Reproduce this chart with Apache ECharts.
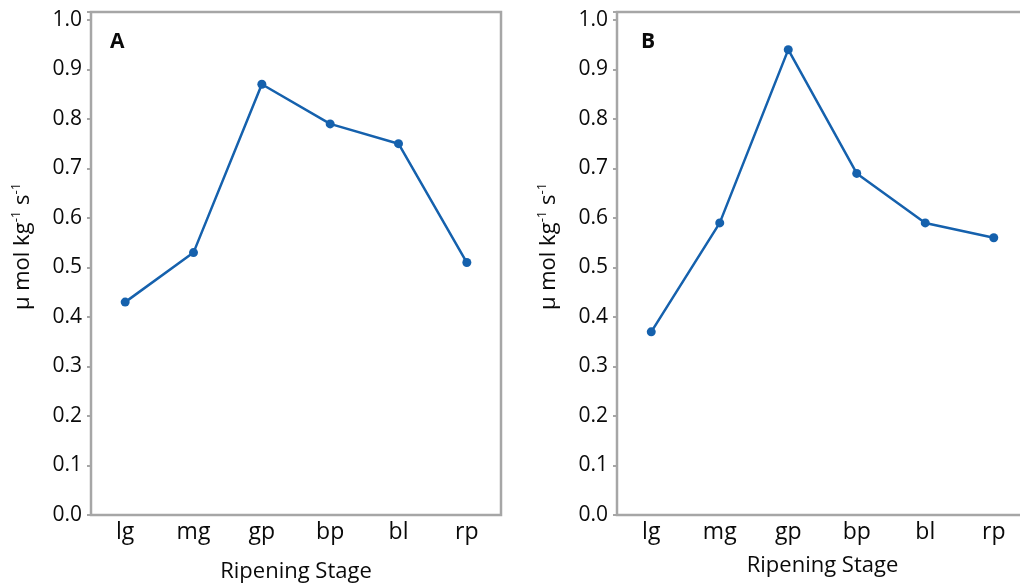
<!DOCTYPE html>
<html>
<head>
<meta charset="utf-8">
<script src="https://cdn.jsdelivr.net/npm/echarts@6/dist/echarts.min.js"></script>
<style>
html,body{margin:0;padding:0;background:#fff;}
#main{width:1020px;height:587px;}
</style>
</head>
<body>
<div id="main"></div>
<script>
// data
var stages = ['lg', 'mg', 'gp', 'bp', 'bl', 'rp'];
var valuesA = [0.43, 0.53, 0.87, 0.79, 0.75, 0.51];
var valuesB = [0.37, 0.59, 0.94, 0.69, 0.59, 0.56];
var panelLabels = ['A', 'B'];

var FONT = '"Open Sans", "Noto Sans", sans-serif';
var GRAY = '#a6a6a6';
var LINE = '#1561ad';
var INK = '#0a0a0a';

function xAxisOf(i, gap) {
	return {
		type: 'category', gridIndex: i, data: stages, boundaryGap: true,
		axisLine: {show: false},
		axisTick: {alignWithLabel: true, length: 4, lineStyle: {color: GRAY, width: 2}},
		axisLabel: {color: INK, fontSize: 23, fontWeight: 500, fontFamily: FONT, margin: 6},
		name: 'Ripening Stage', nameLocation: 'middle', nameGap: gap,
		nameTextStyle: {color: INK, fontSize: 22, fontWeight: 500, fontFamily: FONT}
	};
}
function yAxisOf(i) {
	return {
		type: 'value', gridIndex: i, min: 0, max: 1.016, interval: 0.1,
		axisLine: {show: false},
		axisTick: {show: true, length: 4, lineStyle: {color: GRAY, width: 2}},
		splitLine: {show: false},
		axisLabel: {
			color: INK, fontSize: 21, fontWeight: 500, fontFamily: FONT, margin: 9,
			formatter: function(v) {
				// only label the 0.1 steps, not the padded max
				var r = Math.round(v * 10);
				if (Math.abs(v * 10 - r) > 1e-6) return '';
				return (r / 10).toFixed(1);
			}
		},
		name: '{t|\u03bc mol kg}{s|-1}{t| s}{s|-1}', nameLocation: 'middle', nameGap: 56,
		nameTextStyle: {
			padding: [0, 0, 0, 34],
			rich: {
				t: {color: INK, fontSize: 22, fontWeight: 500, fontFamily: FONT},
				s: {color: INK, fontSize: 13, fontWeight: 500, fontFamily: FONT, verticalAlign: 'top', padding: [0, 0, 12, 0]}
			}
		}
	};
}
function seriesOf(i, data) {
	return {
		type: 'line', xAxisIndex: i, yAxisIndex: i, data: data,
		symbol: 'circle', symbolSize: 9,
		lineStyle: {color: LINE, width: 2.5},
		itemStyle: {color: LINE},
		animation: false
	};
}

var chart = echarts.init(document.getElementById('main'));
chart.setOption({
	backgroundColor: '#fff',
	title: [
		{text: panelLabels[0], left: 105, top: 27, textStyle: {fontSize: 21, fontWeight: 'bold', color: INK, fontFamily: FONT}},
		{text: panelLabels[1], left: 636, top: 27, textStyle: {fontSize: 21, fontWeight: 'bold', color: INK, fontFamily: FONT}}
	],
	grid: [
		{left: 91, right: 519, top: 12, bottom: 72, outerBoundsMode: 'none', show: true, borderColor: GRAY, borderWidth: 2.5, backgroundColor: '#fff'},
		{left: 617, right: -8, top: 12, bottom: 72, outerBoundsMode: 'none', show: true, borderColor: GRAY, borderWidth: 2.5, backgroundColor: '#fff'}
	],
	xAxis: [xAxisOf(0, 46), xAxisOf(1, 40)],
	yAxis: [yAxisOf(0), yAxisOf(1)],
	series: [seriesOf(0, valuesA), seriesOf(1, valuesB)]
});
</script>
</body>
</html>
